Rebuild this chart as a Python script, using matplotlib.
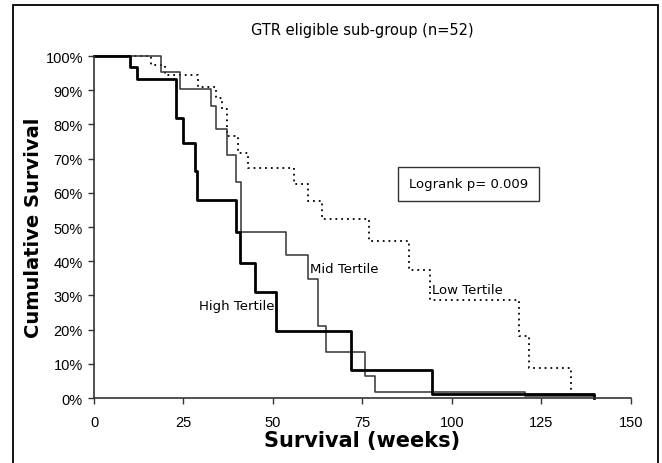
import matplotlib
matplotlib.use('Agg')
import matplotlib.pyplot as plt
from matplotlib.patches import Rectangle

# Kaplan-Meier step data (weeks, % surviving)
high_t = [0, 10, 12, 22.8, 24.9, 28.1, 28.8, 39.7, 40.9, 45.1, 50.8, 71.7, 94.4, 139.8]
high_s = [100, 96.7, 93.3, 82.0, 74.7, 66.5, 57.8, 48.6, 39.6, 30.9, 19.7, 8.3, 1.3, 0]

mid_t = [0, 18.8, 23.9, 32.8, 34.0, 37.1, 39.7, 41.1, 53.6, 59.8, 62.7, 64.7, 75.7, 78.6, 120.4, 139.8]
mid_s = [100, 95.4, 90.5, 85.4, 78.6, 71.0, 63.2, 48.6, 41.8, 34.8, 21.1, 13.5, 6.3, 1.8, 0.5, 0]

low_t = [0, 16, 19.8, 29, 34.1, 35.8, 37.1, 40.2, 43, 55.9, 59.9, 63.8, 76.8, 87.9, 93.8, 118.8, 121.5, 133.4]
low_s = [100, 97.4, 94.4, 91, 87.6, 84.5, 76.7, 71.8, 67.4, 62.6, 57.7, 52.3, 46, 37.5, 28.7, 18, 8.8, 0]

x_ticks = [0, 25, 50, 75, 100, 125, 150]
y_ticks = [0, 10, 20, 30, 40, 50, 60, 70, 80, 90, 100]

fig = plt.figure(figsize=(6.62, 4.64), dpi=100)
ax = fig.add_axes([0.142, 0.140, 0.811, 0.737])

ax.plot(low_t, low_s, drawstyle='steps-post', color='black', lw=1.3,
        linestyle=(0, (1, 2.2)), clip_on=False)
ax.plot(mid_t, mid_s, drawstyle='steps-post', color='#333333', lw=1.1, clip_on=False)
ax.plot(high_t, high_s, drawstyle='steps-post', color='black', lw=2.0, clip_on=False)

ax.set_xlim(0, 150)
ax.set_ylim(0, 100)
ax.set_xticks(x_ticks)
ax.set_yticks(y_ticks)
ax.set_xticklabels([str(v) for v in x_ticks], family='Liberation Sans', fontsize=10.5)
ax.set_yticklabels([f'{v}%' for v in y_ticks], family='Liberation Sans', fontsize=10.5)
ax.tick_params(direction='out', length=4, width=1, color='#333333', pad=4)
ax.tick_params(axis='x', pad=8)
for s in ['top', 'right']:
    ax.spines[s].set_visible(False)
for s in ['left', 'bottom']:
    ax.spines[s].set_color('#333333')
    ax.spines[s].set_linewidth(1.2)

ax.set_xlabel('Survival (weeks)', fontsize=15, fontweight='bold', labelpad=1)
ax.set_ylabel('Cumulative Survival', fontsize=14, fontweight='bold', labelpad=2)

fig.text(0.547, 0.935, 'GTR eligible sub-group (n=52)', ha='center', va='center', fontsize=10.5)

ax.text(70, 37.8, 'Mid Tertile', ha='center', va='center', fontsize=9.5)
ax.text(39.8, 27.2, 'High Tertile', ha='center', va='center', fontsize=9.5)
ax.text(104.4, 31.8, 'Low Tertile', ha='center', va='center', fontsize=9.5)
ax.text(104.6, 62.6, 'Logrank p= 0.009', ha='center', va='center', fontsize=9.5,
        bbox=dict(boxstyle='square,pad=0.8', fc='white', ec='#333333', lw=1))

# frame around the whole figure
fig.patches.append(Rectangle((13 / 662, -0.01), 645 / 662, 1 - 6 / 464 + 0.01,
                             transform=fig.transFigure, fill=False, ec='black', lw=1.3))

fig.savefig('out.png', dpi=100)
